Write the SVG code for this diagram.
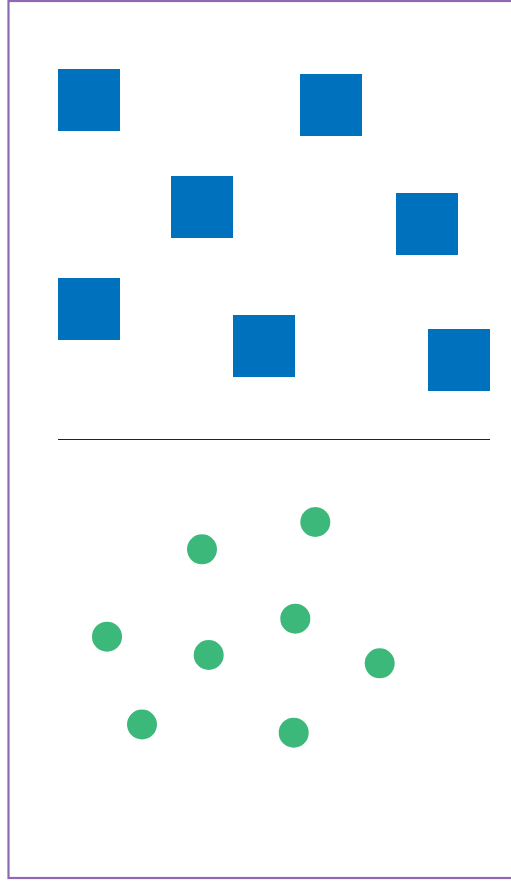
<svg xmlns="http://www.w3.org/2000/svg" width="511" height="884" viewBox="0 0 511 884">
<style>
.sq{fill:#0071BC}
.ci{fill:#3CB97A}
</style>
<rect x="0" y="0" width="511" height="884" fill="#ffffff"/>
<rect x="8.5" y="1" width="520" height="877" fill="none" stroke="#8E69B3" stroke-width="2.2"/>
<g id="sq1"><rect class="sq" x="58" y="69" width="62" height="62"/></g>
<g id="sq2"><rect class="sq" x="300" y="74" width="62" height="62"/></g>
<g id="sq3"><rect class="sq" x="171" y="176" width="62" height="62"/></g>
<g id="sq4"><rect class="sq" x="396" y="193" width="62" height="62"/></g>
<g id="sq5"><rect class="sq" x="58" y="278" width="62" height="62"/></g>
<g id="sq6"><rect class="sq" x="233" y="315" width="62" height="62"/></g>
<g id="sq7"><rect class="sq" x="428" y="329" width="62" height="62"/></g>
<g id="divider"><line x1="58" y1="439.5" x2="490" y2="439.5" stroke="#222222" stroke-width="1"/></g>
<g id="c1"><circle class="ci" cx="315.3" cy="522" r="15"/></g>
<g id="c2"><circle class="ci" cx="202" cy="549.3" r="15"/></g>
<g id="c3"><circle class="ci" cx="295.3" cy="618.7" r="15"/></g>
<g id="c4"><circle class="ci" cx="107" cy="636.7" r="15"/></g>
<g id="c5"><circle class="ci" cx="208.7" cy="655" r="15"/></g>
<g id="c6"><circle class="ci" cx="379.7" cy="663.3" r="15"/></g>
<g id="c7"><circle class="ci" cx="142" cy="724.5" r="15"/></g>
<g id="c8"><circle class="ci" cx="293.7" cy="732.7" r="15"/></g>
</svg>
